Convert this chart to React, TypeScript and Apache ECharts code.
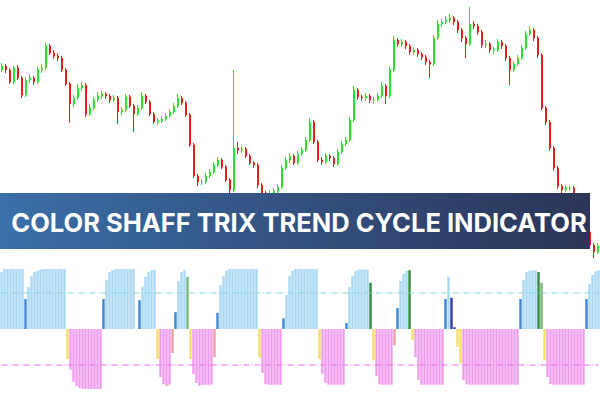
import React, { useEffect, useRef } from "react";
import * as echarts from "echarts";

// Candles: [open, close, low, high]
const candles: number[][] = [
  [330, 334, 328, 337], [334, 330, 327, 336], [330, 318, 316, 332], [318, 332, 316, 334], [332, 322, 320, 335],
  [322, 305, 302, 324], [305, 320, 303, 323], [320, 322, 317, 326], [322, 318, 315, 324], [318, 330, 316, 333],
  [330, 332, 327, 336], [332, 354, 330, 357], [354, 347, 345, 356], [347, 344, 341, 350], [344, 342, 339, 347],
  [342, 330, 328, 344], [330, 316, 314, 332], [316, 296, 277, 318], [296, 302, 293, 305], [302, 312, 300, 316],
  [312, 315, 309, 318], [315, 286, 283, 317], [286, 292, 284, 296], [292, 300, 290, 303], [300, 304, 298, 308],
  [304, 306, 301, 309], [306, 304, 301, 308], [304, 300, 297, 306], [300, 302, 298, 305], [302, 288, 276, 304],
  [288, 290, 285, 293], [290, 303, 288, 306], [303, 294, 292, 305], [294, 286, 268, 296], [286, 292, 284, 295],
  [292, 304, 290, 308], [304, 298, 296, 306], [298, 286, 284, 300], [286, 278, 276, 288], [278, 279, 275, 282],
  [279, 281, 277, 284], [281, 284, 279, 287], [284, 288, 282, 291], [288, 294, 286, 297], [294, 302, 292, 306],
  [302, 297, 295, 304], [297, 285, 283, 299], [285, 255, 253, 287], [255, 224, 222, 257], [224, 218, 214, 226],
  [218, 218, 215, 221], [218, 224, 216, 227], [224, 228, 222, 231], [228, 235, 226, 238], [235, 240, 233, 243],
  [240, 233, 231, 242], [233, 220, 218, 235], [220, 210, 195, 222], [210, 252, 208, 330], [252, 250, 246, 258],
  [250, 251, 247, 254], [251, 244, 242, 253], [244, 237, 235, 246], [237, 235, 232, 239], [235, 215, 212, 237],
  [215, 207, 200, 217], [207, 204, 196, 209], [204, 206, 200, 210], [206, 209, 203, 212], [209, 213, 206, 216],
  [213, 232, 211, 235], [232, 240, 230, 243], [240, 244, 237, 247], [244, 237, 235, 246], [237, 246, 235, 249],
  [246, 250, 244, 253], [250, 260, 248, 263], [260, 278, 258, 282], [278, 258, 256, 280], [258, 240, 238, 260],
  [240, 238, 235, 243], [238, 244, 236, 247], [244, 242, 239, 246], [242, 236, 233, 244], [236, 248, 234, 251],
  [248, 256, 246, 259], [256, 260, 254, 263], [260, 280, 258, 283], [280, 310, 278, 314], [310, 303, 300, 312],
  [303, 302, 299, 305], [302, 304, 299, 307], [304, 300, 297, 306], [300, 300, 296, 303], [300, 304, 298, 307],
  [304, 314, 302, 318], [314, 304, 296, 316], [304, 330, 302, 333], [330, 360, 328, 364], [360, 356, 353, 362],
  [356, 358, 353, 361], [358, 354, 351, 360], [354, 348, 345, 356], [348, 350, 345, 353], [350, 346, 343, 352],
  [346, 343, 340, 348], [343, 338, 335, 345], [338, 336, 322, 340], [336, 362, 334, 365], [362, 376, 360, 380],
  [376, 378, 373, 381], [378, 380, 376, 384], [380, 382, 377, 386], [382, 378, 375, 384], [378, 370, 367, 380],
  [370, 362, 358, 372], [362, 356, 342, 364], [356, 376, 354, 393], [376, 374, 371, 379], [374, 368, 365, 376],
  [368, 355, 352, 370], [355, 356, 352, 360], [356, 350, 347, 358], [350, 350, 346, 353], [350, 358, 348, 361],
  [358, 354, 351, 360], [354, 342, 339, 356], [342, 330, 315, 344], [330, 336, 328, 339], [336, 342, 334, 345],
  [342, 352, 340, 355], [352, 366, 350, 369], [366, 370, 364, 374], [370, 362, 359, 372], [362, 345, 342, 364],
  [345, 292, 290, 347], [292, 278, 275, 294], [278, 252, 249, 280], [252, 232, 229, 254], [232, 214, 211, 234],
  [214, 210, 207, 216], [210, 212, 208, 215], [212, 212, 209, 215], [212, 204, 201, 214], [204, 195, 192, 206],
  [195, 185, 182, 197], [185, 168, 165, 187], [168, 155, 152, 170], [155, 148, 142, 157], [148, 154, 146, 157],
];

// Indicator histogram values (Schaff TRIX trend cycle, scaled -100..100)
const stcValues: (number | null)[] = [
  95, 100, 100, 100, 100, 100, 100, 100, 50, 70,
  88, 95, 97, 99, 100, 100, 100, 100, 100, 100,
  100, 100, -50, -68, -88, -95, -98, -100, -100, -100,
  -100, -100, -100, -100, 50, 82, 95, 98, 100, 100,
  100, 100, 100, 100, 100, null, 48, 70, 87, 95,
  98, 99, -50, -80, -92, -95, -93, -40, 28, 80,
  95, 98, 87, -50, -75, -90, -95, -93, -93, -93,
  -93, -47, 27, 73, 88, 97, 100, 100, 100, 100,
  100, 100, 100, 100, 100, 100, -48, -73, -92, -93,
  -93, -93, -93, -93, 18, 57, 88, 97, 100, 100,
  100, 100, 100, 100, 100, 100, -50, -75, -90, -93,
  -93, -93, -93, -93, -93, 10, 70, 88, 97, 99,
  99, 99, 99, 77, -52, -78, -92, -93, -93, -93,
  -93, -27, 35, 80, 92, 97, 98, -18, -47, -85,
  -93, -93, -93, -93, -93, -93, -93, -93, 50, 87,
  52, 3, -30, -57, -85, -92, -93, -93, -93, -93,
  -93, -93, -93, -93, -93, -93, -93, -93, -93, -93,
  -93, -93, -93, 50, 82, 95, 97, 98, 98, 95,
  77, -52, -80, -92, -93, -93, -93, -93, -93, -93,
  -93, -93, -93, -93, -93, 50, 75, 90, 96, 98,
];

// Bar state per value: U up, B up-start, G/H up-end, D down, Y down-start, S down-end, N weak
const stcStates =
  "UUUUUUUUBU" + "UUUUUUUUUU" + "UUYDDDDDDD" + "DDDDBUUUUU" + "UUUUUUBUUU" +
  "UUYDDDDSBU" + "UUHYDDDDDD" + "DSBUUUUUUU" + "UUUUUUYDDD" + "DDDDBUUUUU" +
  "UUUUUUYDDD" + "DDDDDBUUUU" + "UUUGYDDDDD" + "DSBUUUGYDD" + "DDDDDDDDBU" +
  "NNYYDDDDDD" + "DDDDDDDDDD" + "DDDBUUUUUG" + "HYDDDDDDDD" + "DDDDDBUUUU";

const stateColors: Record<string, string> = {
  U: "#a9d9f4",
  B: "#3f86d2",
  G: "#2f8a3a",
  H: "#72b872",
  D: "#f09cee",
  Y: "#f4df62",
  S: "#e6a2a2",
  N: "#2f3aa8",
};

const levelUp = 60;
const levelDown = -60;
const title = "COLOR SHAFF TRIX TREND CYCLE INDICATOR";

export default function App() {
  const ref = useRef<HTMLDivElement>(null);
  useEffect(() => {
    document.body.style.margin = "0";
    if (!ref.current) return;
    const chart = echarts.init(ref.current, null, { renderer: "svg" });
    const candleCats = candles.map((_, i) => `c${i + 1}`);
    const stcCats = stcValues.map((_, i) => `b${i + 1}`);
    const first = stcCats[0];
    const last = stcCats[stcCats.length - 1];
    const stcData = stcValues.map((v, i) => ({
      value: v,
      itemStyle: { color: stateColors[stcStates[i]] || stateColors.U },
    }));
    const levelSeries = (value: number, color: string) => ({
      type: "line",
      xAxisIndex: 1,
      yAxisIndex: 1,
      data: [
        [first, value],
        [last, value],
      ],
      symbol: "none",
      silent: true,
      z: 3,
      lineStyle: { color, type: [6, 2, 1, 2], width: 1 },
    });
    chart.setOption({
      animation: false,
      backgroundColor: "#ffffff",
      grid: [
        { left: 0, right: 0, top: 0, height: 260 },
        { left: 0, right: 0, top: 269, height: 120 },
      ],
      xAxis: [
        { type: "category", gridIndex: 0, data: candleCats, show: false, boundaryGap: true },
        { type: "category", gridIndex: 1, data: stcCats, show: false, boundaryGap: true },
      ],
      yAxis: [
        { type: "value", gridIndex: 0, min: 140, max: 400, show: false, splitLine: { show: false } },
        { type: "value", gridIndex: 1, min: -100, max: 100, show: false, splitLine: { show: false } },
      ],
      series: [
        {
          type: "candlestick",
          xAxisIndex: 0,
          yAxisIndex: 0,
          data: candles,
          barWidth: 2,
          itemStyle: {
            color: "#3fd63a",
            color0: "#d8251f",
            borderColor: "#27e62a",
            borderColor0: "#ee1c1c",
            borderWidth: 1,
          },
        },
        {
          type: "bar",
          xAxisIndex: 1,
          yAxisIndex: 1,
          data: stcData,
          barWidth: 2.4,
        },
        levelSeries(levelUp, "#86d4e2"),
        levelSeries(levelDown, "#e46fe4"),
      ],
      graphic: [
        {
          type: "rect",
          z: 100,
          shape: { x: 0, y: 193, width: 590, height: 56 },
          style: {
            fill: new echarts.graphic.LinearGradient(0, 0, 1, 0, [
              { offset: 0, color: "#3b70a9" },
              { offset: 0.5, color: "#33507f" },
              { offset: 1, color: "#2b3558" },
            ]),
          },
        },
        {
          type: "text",
          z: 101,
          x: 299,
          y: 222,
          style: {
            text: title,
            fill: "#ffffff",
            fontFamily: "Inter",
            fontWeight: 700,
            fontSize: 25.5,
            align: "center",
            verticalAlign: "middle",
          },
        },
      ],
    });
    return () => chart.dispose();
  }, []);
  return <div ref={ref} style={{ width: 600, height: 400 }} />;
}
